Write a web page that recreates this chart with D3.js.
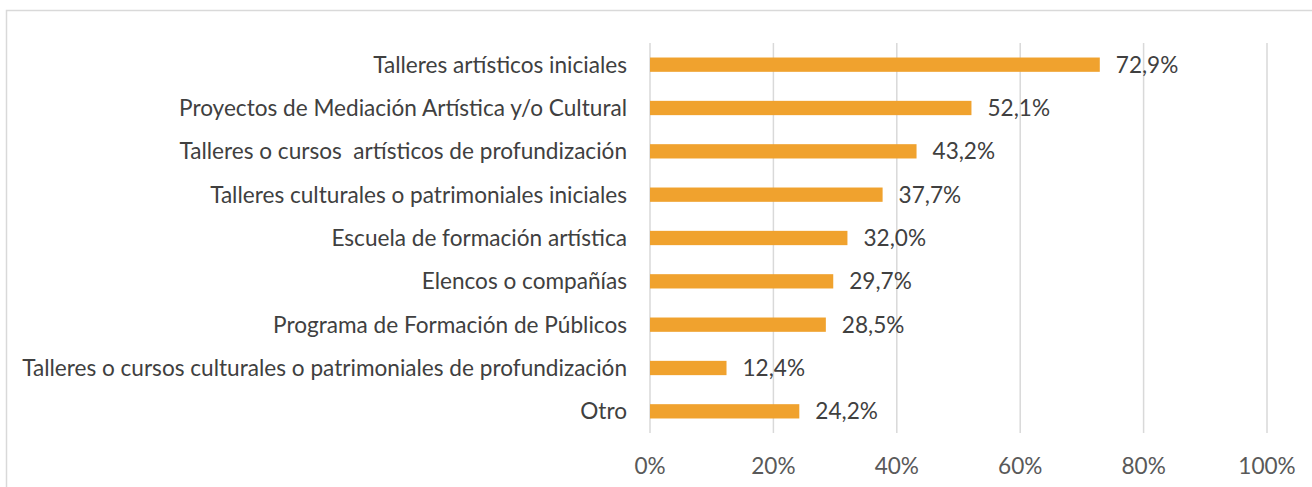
<!DOCTYPE html>
<html><head><meta charset="utf-8">
<script src="https://cdn.jsdelivr.net/npm/d3@7"></script>
<style>body{margin:0;background:#fff}svg{display:block}text{white-space:pre}</style>
</head><body>
<svg id="c" width="1312" height="487"></svg>
<script>
const categories = [
  "Talleres artísticos iniciales",
  "Proyectos de Mediación Artística y/o Cultural",
  "Talleres o cursos  artísticos de profundización",
  "Talleres culturales o patrimoniales iniciales",
  "Escuela de formación artística",
  "Elencos o compañías",
  "Programa de Formación de Públicos",
  "Talleres o cursos culturales o patrimoniales de profundización",
  "Otro"
];
const values = [72.9, 52.1, 43.2, 37.7, 32.0, 29.7, 28.5, 12.4, 24.2];
const tickValues = [0, 20, 40, 60, 80, 100];

const svg = d3.select("#c");
const font = "Lato, 'Open Sans', sans-serif";
svg.append("rect").attr("x",6.5).attr("y",10.5).attr("width",1320).attr("height",500)
  .attr("fill","#fff").attr("stroke","#d9d9d9").attr("stroke-width",1.5);

const x = d3.scaleLinear().domain([0,100]).range([650,1267]);
const y = d3.scaleBand().domain(categories).range([43,433]).paddingInner(0.67).paddingOuter(0.335);

svg.append("g").selectAll("line").data(tickValues).join("line")
  .attr("x1",d=>x(d)).attr("x2",d=>x(d)).attr("y1",43).attr("y2",433)
  .attr("stroke","#d9d9d9").attr("stroke-width",1.5);

svg.append("g").selectAll("rect").data(values).join("rect")
  .attr("x",x(0)).attr("y",(d,i)=>y(categories[i]))
  .attr("width",d=>x(d)-x(0)).attr("height",y.bandwidth())
  .attr("fill","#F0A22E");

// measure to fit the longest label's span from the reference
const probe = svg.append("text").attr("font-family",font).attr("font-size",20)
  .text(categories[7]);
const fs = Math.round(20 * 605 / probe.node().getComputedTextLength() * 10) / 10;
probe.remove();

svg.append("g").selectAll("text").data(values).join("text")
  .attr("x",d=>x(d)+16).attr("y",(d,i)=>y(categories[i])+y.bandwidth()/2)
  .attr("dy","0.35em").attr("font-family",font).attr("font-size",fs).attr("fill","#404040")
  .text(d=>d.toFixed(1).replace(".",",")+"%");

svg.append("g").selectAll("text").data(categories).join("text")
  .attr("x",627).attr("y",d=>y(d)+y.bandwidth()/2).attr("dy","0.35em")
  .attr("text-anchor","end").attr("font-family",font).attr("font-size",fs).attr("fill","#404040")
  .text(d=>d);

svg.append("g").selectAll("text").data(tickValues).join("text")
  .attr("x",d=>x(d)).attr("y",466).attr("dy","0.35em").attr("text-anchor","middle")
  .attr("font-family",font).attr("font-size",fs).attr("fill","#595959")
  .text(d=>d+"%");
</script>
</body></html>
